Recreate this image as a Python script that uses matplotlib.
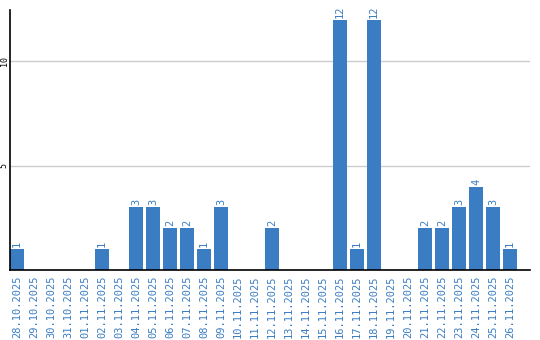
import numpy as np
import matplotlib
matplotlib.use('Agg')
import matplotlib.pyplot as plt

dates = ['28.10.2025', '29.10.2025', '30.10.2025', '31.10.2025', '01.11.2025',
         '02.11.2025', '03.11.2025', '04.11.2025', '05.11.2025', '06.11.2025',
         '07.11.2025', '08.11.2025', '09.11.2025', '10.11.2025', '11.11.2025',
         '12.11.2025', '13.11.2025', '14.11.2025', '15.11.2025', '16.11.2025',
         '17.11.2025', '18.11.2025', '19.11.2025', '20.11.2025', '21.11.2025',
         '22.11.2025', '23.11.2025', '24.11.2025', '25.11.2025', '26.11.2025']
counts = [1, 0, 0, 0, 0, 1, 0, 3, 3, 2, 2, 1, 3, 0, 0, 2, 0, 0, 0, 12,
          1, 12, 0, 0, 2, 2, 3, 4, 3, 1]
yticks = [5, 10]

bar_color = '#3b7dc2'
text_color = '#3a7dc1'

fig = plt.figure(figsize=(5.4, 3.4), dpi=100, facecolor='white')
ax = fig.add_axes([10/540, 70/340, 520/540, 260/340])

x = np.arange(len(dates))
w = 14/17
ax.bar(x, counts, width=w, color=bar_color, zorder=2)

for xi, c in zip(x, counts):
    if c > 0:
        ax.text(xi, c + 0.1, str(c), rotation=90, ha='center', va='bottom',
                color=text_color, fontsize=7.5, family='DejaVu Sans Mono')

ax.set_xlim(-w/2, 29 + w/2 + 13/17)
ax.set_ylim(0, 12.47)

ax.set_yticks(yticks)
ax.set_yticklabels([str(t) for t in yticks], rotation=90, va='center',
                   fontsize=6, family='DejaVu Sans Mono')
ax.tick_params(axis='y', length=0, pad=1)
ax.yaxis.grid(True, color='#cccccc', linewidth=1)
ax.set_axisbelow(True)

ax.set_xticks(x)
ax.set_xticklabels(dates, rotation=90, color=text_color, fontsize=7.5,
                   family='DejaVu Sans Mono', va='top', ha='center')
ax.tick_params(axis='x', length=0, pad=4)

for s in ['top', 'right']:
    ax.spines[s].set_visible(False)
ax.spines['left'].set_color('black')
ax.spines['bottom'].set_color('black')
ax.spines['left'].set_linewidth(1.2)
ax.spines['bottom'].set_linewidth(1.2)

fig.savefig('out.png', dpi=100, facecolor='white')
